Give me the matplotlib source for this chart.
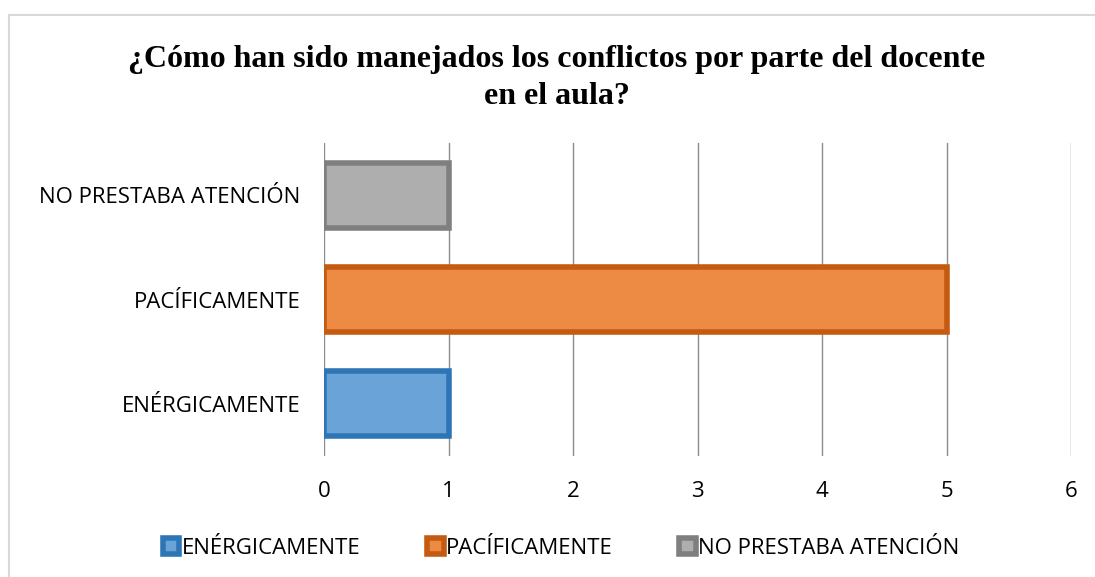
import matplotlib.pyplot as plt
from matplotlib.patches import Rectangle

categories = ["ENÉRGICAMENTE", "PACÍFICAMENTE", "NO PRESTABA ATENCIÓN"]
values = [1, 5, 1]
fills = ["#6AA3D8", "#ED8A44", "#AEAEAE"]
edges = ["#2E75B6", "#C55A11", "#7F7F7F"]
title_lines = ["¿Cómo han sido manejados los conflictos por parte del docente", "en el aula?"]

plt.rcParams['font.family'] = ['Open Sans', 'DejaVu Sans']

W, H = 1095, 577
fig = plt.figure(figsize=(W / 100, H / 100), dpi=100)
# chart area border (runs off the right and bottom edges like the source)
fig.patches.append(Rectangle((9 / W, -0.1), 1.2, 1.1 - 15 / H,
                             transform=fig.transFigure, fill=False,
                             edgecolor="#D9D9D9", linewidth=1.5))
ax = fig.add_axes([324 / W, 1 - 456 / H, 747 / W, 313 / H])

ypos = list(range(len(categories)))
for y, v, fc, ec, lab in zip(ypos, values, fills, edges, categories):
    ax.barh(y, v, height=0.62, color=fc, edgecolor=ec, linewidth=4, label=lab, zorder=3)

ax.set_xlim(0, 6)
ax.set_ylim(-0.5, 2.5)
ax.set_xticks(range(0, 7))
ax.set_yticks(ypos)
ax.set_yticklabels(categories)
ax.tick_params(axis="both", length=0, labelsize=16, colors="#000000")
ax.tick_params(axis="x", pad=18)
ax.tick_params(axis="y", pad=17)
ax.grid(axis="x", color="#8C8C8C", linewidth=1, zorder=0)
for s in ax.spines.values():
    s.set_visible(False)

for line, yb in zip(title_lines, [67, 104]):
    fig.text(557 / W, 1 - yb / H, line, ha="center", va="baseline", fontsize=23,
             fontweight="bold", family="Liberation Serif")

ax.legend(loc="center", bbox_to_anchor=(561 / W, 1 - 548 / H),
          bbox_transform=fig.transFigure, ncol=3, frameon=False, fontsize=16,
          handlelength=0.75, handleheight=0.75, handletextpad=0.1, columnspacing=3.0)

fig.savefig("out.png", dpi=100)
